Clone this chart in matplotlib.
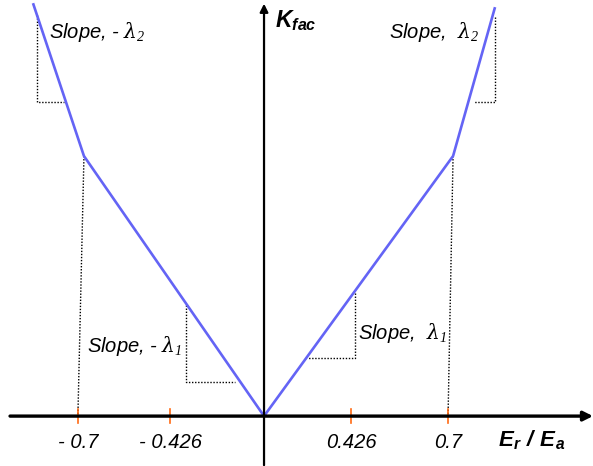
import numpy as np
import matplotlib
matplotlib.use("Agg")
import matplotlib.pyplot as plt

plt.rcParams['font.family'] = ['Liberation Sans', 'DejaVu Sans']
plt.rcParams['mathtext.fontset'] = 'custom'
plt.rcParams['mathtext.rm'] = 'Liberation Serif:italic'
plt.rcParams['mathtext.it'] = 'DejaVu Serif:italic'
plt.rcParams['mathtext.bf'] = 'Liberation Sans:bold:italic'

# K_fac curve (schematic, bilinear on each side)
curve_x = [-0.875, -0.682, 0.0, 0.716, 0.875]
curve_y = [1.564, 0.985, 0.0, 0.985, 1.549]

# tick positions on the schematic axis and their labels
tick_pos = [-0.705, -0.356, 0.330, 0.697]
tick_labels = ['- 0.7', '- 0.426', '0.426', '0.7']

# slope triangles: corner x, corner y, top of vertical leg, end of horizontal leg
tri_x = [-0.860, 0.875, -0.295, 0.345]
tri_y = [1.189, 1.189, 0.129, 0.220]
tri_top = [1.519, 1.511, 0.420, 0.466]
tri_end = [-0.758, 0.795, -0.110, 0.167]

slope_labels = [r'Slope, - $\lambda_2$', r'Slope,  $\lambda_2$',
                r'Slope, - $\lambda_1$', r'Slope,  $\lambda_1$']
label_x = [-0.815, 0.474, -0.672, 0.356]
label_y = [1.455, 1.455, 0.265, 0.314]

fig = plt.figure(figsize=(5.93, 4.66), dpi=100)
ax = fig.add_axes([0, 0, 1, 1])
ax.set_xlim(-1.0, 1.246)
ax.set_ylim(-0.189, 1.576)
ax.axis('off')

# axes with arrows
ax.annotate('', xy=(1.246, 0), xytext=(-0.962, 0),
            arrowprops=dict(arrowstyle='-|>', lw=2.4, color='black',
                            mutation_scale=14, shrinkA=0, shrinkB=0))
ax.annotate('', xy=(0, 1.562), xytext=(0, -0.186),
            arrowprops=dict(arrowstyle='-|>', lw=1.6, color='black',
                            mutation_scale=12, shrinkA=0, shrinkB=0))

dot = dict(color='black', lw=1, linestyle=(0, (1, 1.2)))

# drop lines from the kinks to the 0.7 ticks
ax.plot([curve_x[1], tick_pos[0]], [curve_y[1], 0], **dot)
ax.plot([curve_x[3], tick_pos[3]], [curve_y[3], 0], **dot)

# slope triangles
for x, y, top, end in zip(tri_x, tri_y, tri_top, tri_end):
    ax.plot([x, x, end], [top, y, y], **dot)

ax.plot(curve_x, curve_y, color='#6464F5', lw=1.9, solid_capstyle='butt')

# orange tick marks
for p in tick_pos:
    ax.plot([p, p], [-0.025, 0.025], color='#FF6A13', lw=1.2)

for p, lab in zip(tick_pos, tick_labels):
    ax.text(p, -0.1, lab, ha='center', va='center', fontsize=14.5, fontstyle='italic')

for x, y, lab in zip(label_x, label_y, slope_labels):
    ax.text(x, y, lab, ha='left', va='center', fontsize=14.5, fontstyle='italic')

ax.text(0.042, 1.50, r'$\mathbf{K_{fac}}$', ha='left', va='center', fontsize=16.5)
ax.text(0.885, -0.09, r'$\mathbf{E_r\ /\ E_a}$', ha='left', va='center', fontsize=16)

fig.savefig('out.png', dpi=100)
